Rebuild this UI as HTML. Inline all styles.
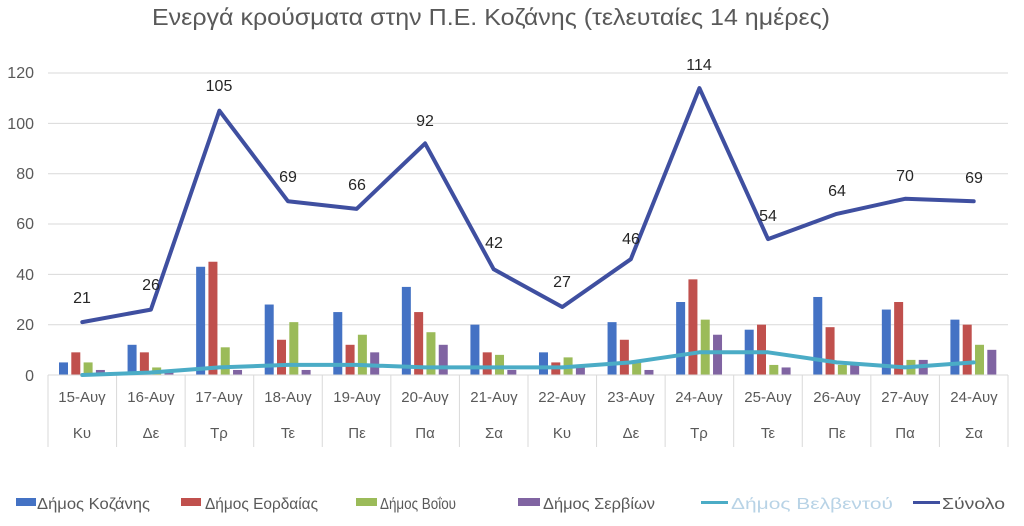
<!DOCTYPE html>
<html><head><meta charset="utf-8"><style>
body{margin:0;background:#fff;width:1024px;height:521px;overflow:hidden}
svg{font-family:"Liberation Sans","DejaVu Sans",sans-serif}
</style></head><body>
<svg id="c" width="1024" height="521" xmlns="http://www.w3.org/2000/svg">
<text x="152" y="25" font-size="23" fill="#595959" textLength="678" lengthAdjust="spacingAndGlyphs">Ενεργά κρούσματα στην Π.Ε. Κοζάνης (τελευταίες 14 ημέρες)</text>
<g stroke="#d9d9d9" stroke-width="1">
<line x1="48" x2="1008" y1="324.7" y2="324.7"/><line x1="48" x2="1008" y1="274.4" y2="274.4"/>
<line x1="48" x2="1008" y1="224" y2="224"/><line x1="48" x2="1008" y1="173.7" y2="173.7"/>
<line x1="48" x2="1008" y1="123.4" y2="123.4"/><line x1="48" x2="1008" y1="73" y2="73"/>
</g>
<g font-size="16" fill="#595959" text-anchor="end">
<text x="34" y="381">0</text><text x="34" y="330">20</text><text x="34" y="280">40</text>
<text x="34" y="229">60</text><text x="34" y="179">80</text><text x="34" y="129">100</text><text x="34" y="78">120</text>
</g>
<g id="bars"></g>
<g id="axis" stroke="#d9d9d9"></g>
<g id="lines"></g>
<g font-size="15" fill="#595959" text-anchor="middle">
<text x="82" y="402">15-Αυγ</text><text x="151" y="402">16-Αυγ</text><text x="219" y="402">17-Αυγ</text><text x="288" y="402">18-Αυγ</text><text x="357" y="402">19-Αυγ</text><text x="425" y="402">20-Αυγ</text><text x="494" y="402">21-Αυγ</text><text x="562" y="402">22-Αυγ</text><text x="631" y="402">23-Αυγ</text><text x="699" y="402">24-Αυγ</text><text x="768" y="402">25-Αυγ</text><text x="837" y="402">26-Αυγ</text><text x="905" y="402">27-Αυγ</text><text x="974" y="402">24-Αυγ</text>
<text x="82" y="438">Κυ</text><text x="151" y="438">Δε</text><text x="219" y="438">Τρ</text><text x="288" y="438">Τε</text><text x="357" y="438">Πε</text><text x="425" y="438">Πα</text><text x="494" y="438">Σα</text><text x="562" y="438">Κυ</text><text x="631" y="438">Δε</text><text x="699" y="438">Τρ</text><text x="768" y="438">Τε</text><text x="837" y="438">Πε</text><text x="905" y="438">Πα</text><text x="974" y="438">Σα</text>
</g>
<g font-size="16" fill="#262626" text-anchor="middle">
<text x="82" y="303">21</text><text x="151" y="290">26</text><text x="219" y="91">105</text><text x="288" y="182">69</text><text x="357" y="190">66</text><text x="425" y="126">92</text><text x="494" y="248">42</text><text x="562" y="287">27</text><text x="631" y="244">46</text><text x="699" y="70">114</text><text x="768" y="221">54</text><text x="837" y="196">64</text><text x="905" y="181">70</text><text x="974" y="183">69</text>
</g>
<g font-size="16" fill="#595959">
<rect x="16" y="498" width="20" height="8" fill="#4472c4"/><text x="37" y="509" textLength="113" lengthAdjust="spacingAndGlyphs">Δήμος Κοζάνης</text>
<rect x="181" y="498" width="20" height="8" fill="#c0504d"/><text x="205" y="509" textLength="113" lengthAdjust="spacingAndGlyphs">Δήμος Εορδαίας</text>
<rect x="356" y="498" width="21" height="8" fill="#9bbb59"/><text x="380" y="509" textLength="76" lengthAdjust="spacingAndGlyphs">Δήμος Βοΐου</text>
<rect x="518" y="498" width="22" height="8" fill="#8064a2"/><text x="543" y="509" textLength="112" lengthAdjust="spacingAndGlyphs">Δήμος Σερβίων</text>
<rect x="701" y="501" width="27" height="3" fill="#4bacc6"/><text x="731" y="509" fill="#b8d3e6" textLength="162" lengthAdjust="spacingAndGlyphs">Δήμος Βελβεντού</text>
<rect x="913" y="501" width="27" height="3" fill="#3f4fa0"/><text x="942" y="509" textLength="63" lengthAdjust="spacingAndGlyphs">Σύνολο</text>
</g>
</svg>
<script>
var NS="http://www.w3.org/2000/svg";
function el(p,t,a){var e=document.createElementNS(NS,t);for(var k in a)e.setAttribute(k,a[k]);document.getElementById(p).appendChild(e);}
var s=2.517,y0=375,x0=48,cw=68.57;
var D=[[5,12,43,28,25,35,20,9,21,29,18,31,26,22],[9,9,45,14,12,25,9,5,14,38,20,19,29,20],[5,3,11,21,16,17,8,7,5,22,4,4,6,12],[2,1,2,2,9,12,2,3,2,16,3,4,6,10]];
var C=["#4472c4","#c0504d","#9bbb59","#8064a2"];
for(var j=0;j<4;j++)for(var i=0;i<14;i++){var h=D[j][i]*s;el("bars","rect",{x:x0+i*cw+11+j*12.3,y:y0-h,width:9,height:h,fill:C[j]});}
el("axis","line",{x1:x0,x2:1008,y1:375,y2:375});
for(var i=0;i<=14;i++){var x=x0+i*cw;el("axis","line",{x1:x,x2:x,y1:375,y2:447});}
function line(v,c,w){var p=v.map(function(d,i){return (x0+cw/2+i*cw).toFixed(1)+","+(y0-d*s).toFixed(1)}).join(" ");el("lines","polyline",{points:p,fill:"none",stroke:c,"stroke-width":w,"stroke-linejoin":"round","stroke-linecap":"round"});}
line([0,1,3,4,4,3,3,3,5,9,9,5,3,5],"#4bacc6",4);
line([21,26,105,69,66,92,42,27,46,114,54,64,70,69],"#3f4fa0",4);
</script>
</body></html>
